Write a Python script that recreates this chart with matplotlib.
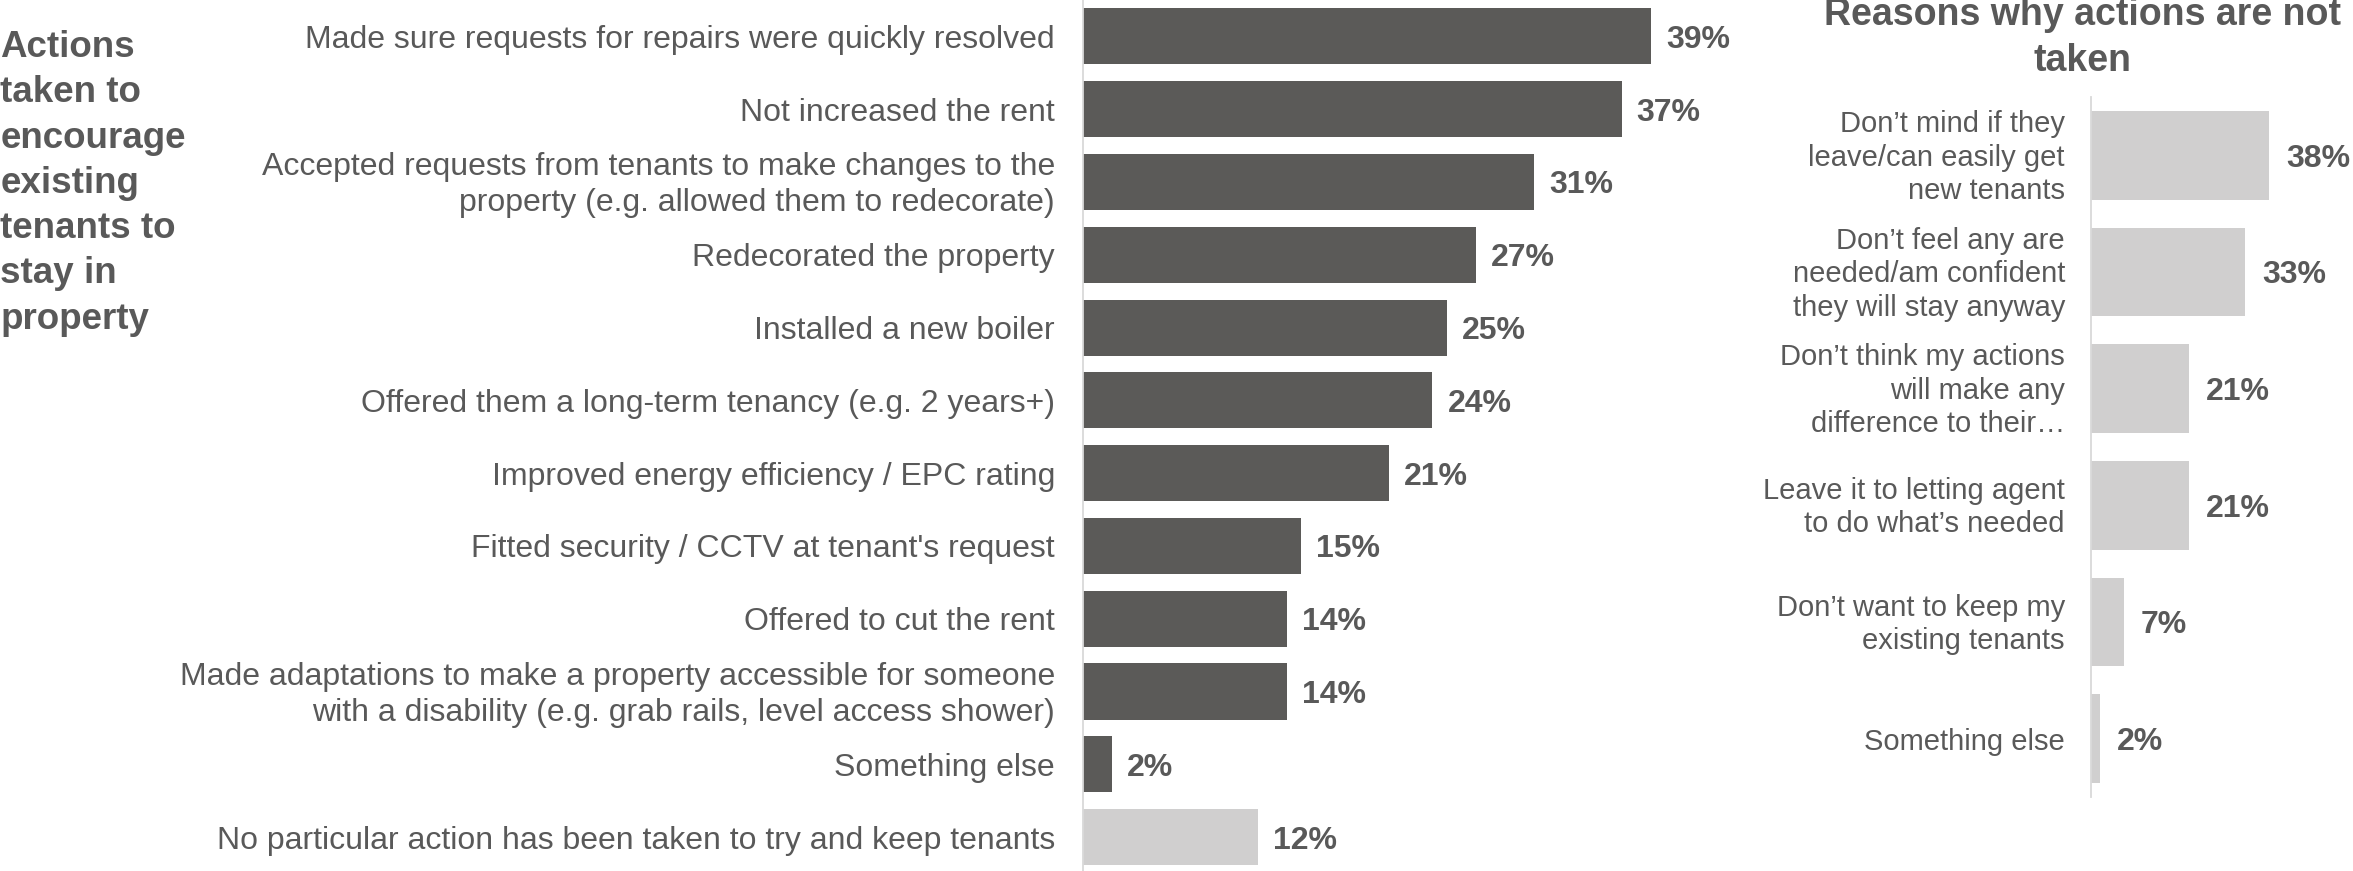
import matplotlib
matplotlib.use("Agg")
import matplotlib.pyplot as plt
from matplotlib.transforms import ScaledTranslation

W, H, DPI = 2353, 871, 100
plt.rcParams['font.family'] = ['Liberation Sans', 'DejaVu Sans']

# ---------------- data ----------------
actions = [
    "Made sure requests for repairs were quickly resolved",
    "Not increased the rent",
    "Accepted requests from tenants to make changes to the\nproperty (e.g. allowed them to redecorate)",
    "Redecorated the property",
    "Installed a new boiler",
    "Offered them a long-term tenancy (e.g. 2 years+)",
    "Improved energy efficiency / EPC rating",
    "Fitted security / CCTV at tenant's request",
    "Offered to cut the rent",
    "Made adaptations to make a property accessible for someone\nwith a disability (e.g. grab rails, level access shower)",
    "Something else",
    "No particular action has been taken to try and keep tenants",
]
action_pct = [39, 37, 31, 27, 25, 24, 21, 15, 14, 14, 2, 12]
action_kind = ["taken"] * 11 + ["none"]

reasons = [
    "Don\u2019t mind if they\nleave/can easily get\nnew tenants",
    "Don\u2019t feel any are\nneeded/am confident\nthey will stay anyway",
    "Don\u2019t think my actions\nwill make any\ndifference to their\u2026",
    "Leave it to letting agent\nto do what\u2019s needed",
    "Don\u2019t want to keep my\nexisting tenants",
    "Something else",
]
reason_pct = [38, 33, 21, 21, 7, 2]

left_title = "Actions\ntaken to\nencourage\nexisting\ntenants to\nstay in\nproperty"
right_title = "Reasons why actions are not\ntaken"

# ---------------- style ----------------
TEXT = "#595959"
DARK = "#5B5A58"
LIGHT = "#D0CFCF"
AXIS = "#D9D9D9"
PX = 72.0 / DPI  # points per pixel

fig = plt.figure(figsize=(W / DPI, H / DPI), dpi=DPI)


def px_axes(x0, y_top, y_bot, w):
    return fig.add_axes([x0 / W, 1 - y_bot / H, w / W, (y_bot - y_top) / H])


def style(ax):
    for s in ("top", "right", "bottom"):
        ax.spines[s].set_visible(False)
    ax.spines["left"].set_color(AXIS)
    ax.spines["left"].set_linewidth(1.3)
    ax.set_xticks([])
    ax.tick_params(axis="y", length=0)
    ax.patch.set_alpha(0)


def lift_multiline(ax, linespacing, lift_px):
    for lab in ax.get_yticklabels():
        lab.set_linespacing(linespacing)
        if "\n" in lab.get_text():
            lab.set_transform(lab.get_transform() +
                              ScaledTranslation(0, lift_px / DPI,
                                                fig.dpi_scale_trans))


def value_labels(ax, vals, fs, gap_px):
    for i, v in enumerate(vals):
        ax.annotate(f"{v}%", xy=(v, i), xytext=(gap_px * PX, -0.358 * fs),
                    textcoords="offset points", ha="left", va="baseline",
                    fontsize=fs, fontweight="bold", color=TEXT,
                    annotation_clip=False)


# ---------------- left panel ----------------
ax1 = px_axes(1083, 0, 873.5, 600)
style(ax1)
y1 = list(range(len(actions)))
ax1.barh(y1, action_pct, height=0.77,
         color=[DARK if k == "taken" else LIGHT for k in action_kind])
ax1.set_xlim(0, 600 / 14.56)
ax1.set_ylim(len(actions) - 0.5, -0.5)
ax1.set_yticks(y1)
ax1.set_yticklabels(actions, fontsize=23, color=TEXT)
ax1.tick_params(axis="y", pad=28 * PX)
lift_multiline(ax1, 1.24, 3)
value_labels(ax1, action_pct, 23, 15)

# ---------------- right panel ----------------
ax2 = px_axes(2091, 97, 797, 250)
style(ax2)
y2 = list(range(len(reasons)))
ax2.barh(y2, reason_pct, height=0.76, color=LIGHT)
ax2.set_xlim(0, 250 / 4.68)
ax2.set_ylim(len(reasons) - 0.5, -0.5)
ax2.set_yticks(y2)
ax2.set_yticklabels(reasons, fontsize=21, color=TEXT)
ax2.tick_params(axis="y", pad=26 * PX)
lift_multiline(ax2, 1.25, 3.5)
value_labels(ax2, reason_pct, 23, 17)

# ---------------- titles ----------------
fig.text(0.5 / W, 1 - 30 / H, left_title, ha="left", va="top", fontsize=26.5,
         fontweight="bold", color=TEXT, linespacing=1.38)
fig.text(2082 / W, 1 + 3 / H, right_title, ha="center", va="top",
         multialignment="center", fontsize=27, fontweight="bold",
         color=TEXT, linespacing=1.37)

fig.savefig("out.png", dpi=DPI)
